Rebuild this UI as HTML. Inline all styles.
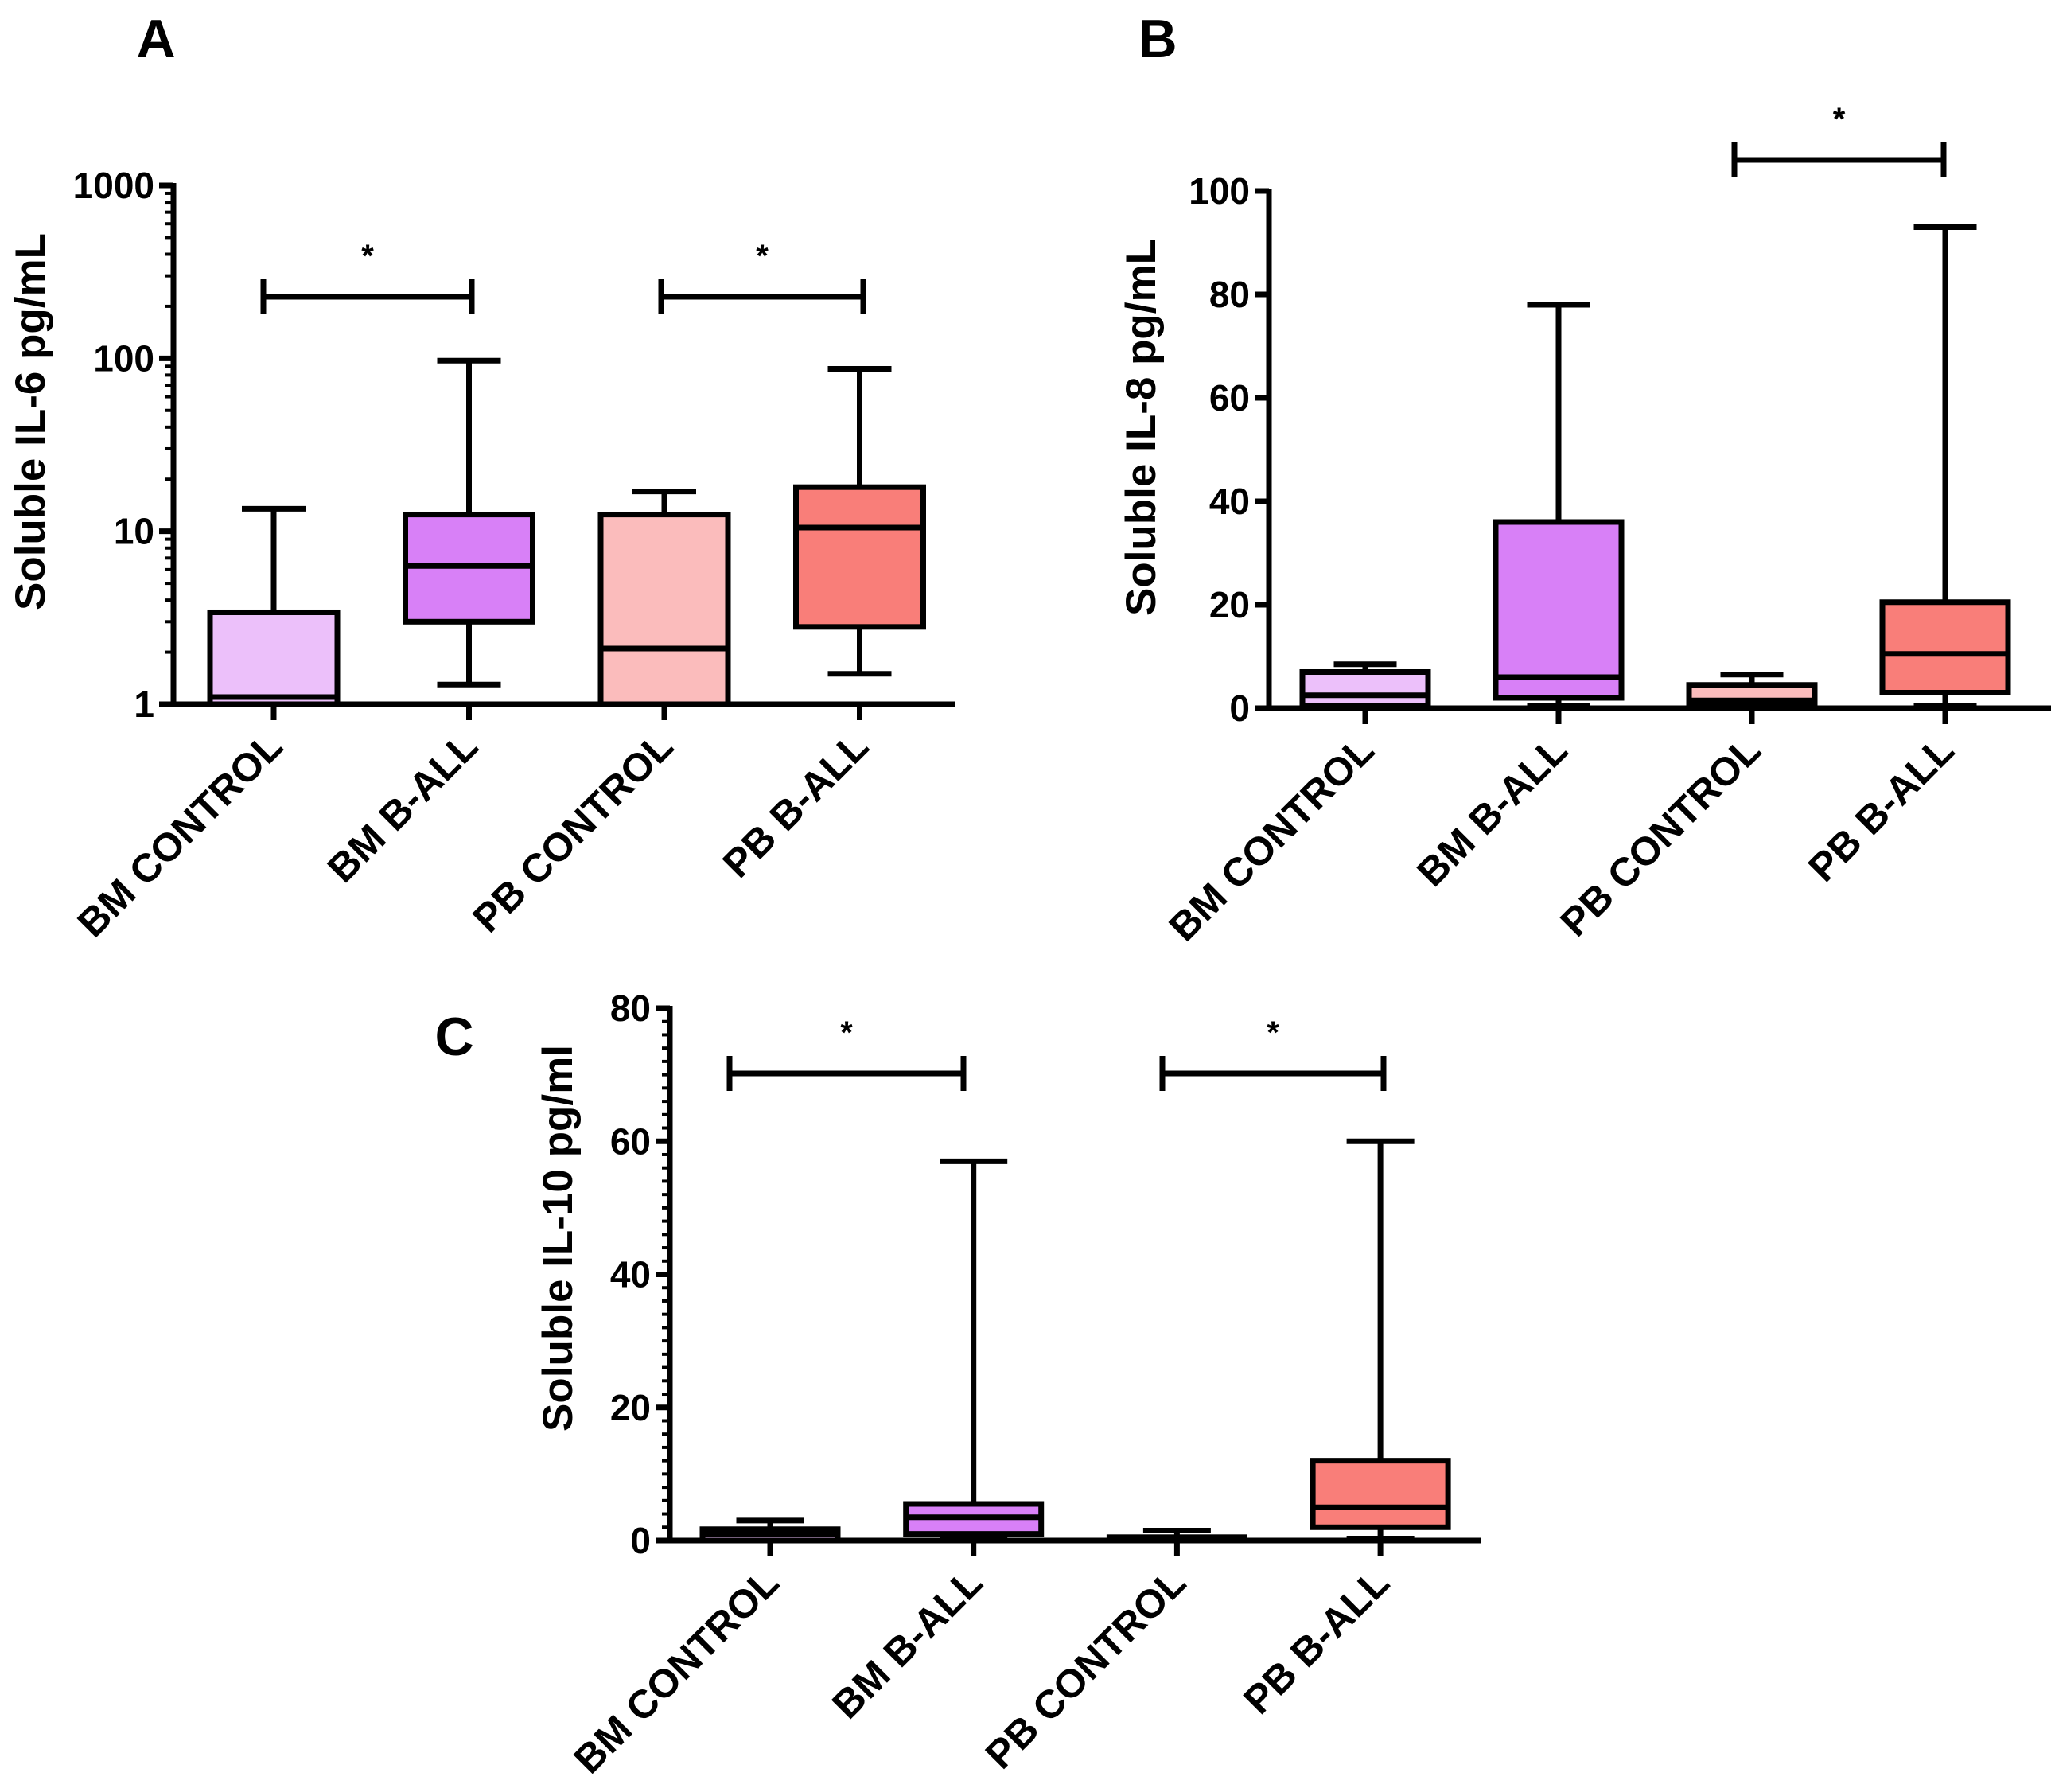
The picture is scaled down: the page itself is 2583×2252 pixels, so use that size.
<!DOCTYPE html>
<html><head><meta charset="utf-8">
<style>
html,body{margin:0;padding:0;background:#fff;}
svg{display:block;font-family:"Liberation Sans",Arial,sans-serif;font-weight:bold;}
</style></head>
<body>
<svg id="fig" width="2583" height="2252" viewBox="0 0 2583 2252" xmlns="http://www.w3.org/2000/svg">
<rect width="2583" height="2252" fill="#fff"/>
</svg>
<script>
const categories = ["BM CONTROL","BM B-ALL","PB CONTROL","PB B-ALL"];
const colors = ["#ecc0fa","#d880f7","#fbbcbc","#f97e79"];
// Panel A (log)
const aMin = [1, 1.3, 1, 1.5];
const aQ1 = [1, 3.0, 1, 2.8];
const aMed = [1.1, 6.3, 2.1, 10.5];
const aQ3 = [3.4, 12.5, 12.5, 18];
const aMax = [13.5, 97, 17, 87];
const aTicks = [1, 10, 100, 1000];
// Panel B
const bMin = [0.3, 0.5, 0.3, 0.5];
const bQ1 = [0.5, 2, 0.5, 3];
const bMed = [2.5, 6, 1.5, 10.5];
const bQ3 = [7, 36, 4.5, 20.5];
const bMax = [8.5, 78, 6.5, 93];
const bTicks = [0, 20, 40, 60, 80, 100];
// Panel C
const cMin = [0, 0.3, 0, 0.3];
const cQ1 = [0, 1, 0, 2];
const cMed = [1, 3.5, 0.3, 5];
const cQ3 = [1.7, 5.5, 0.5, 12];
const cMax = [3, 57, 1.5, 60];
const cTicks = [0, 20, 40, 60, 80];

const NS = "http://www.w3.org/2000/svg";
const svg = document.getElementById("fig");
function mk(tag, attrs, parent, text){
  const e = document.createElementNS(NS, tag);
  for (const k in attrs) e.setAttribute(k, attrs[k]);
  if (text !== undefined) e.textContent = text;
  (parent||svg).appendChild(e);
  return e;
}
const LW = 7;

function panel(p){
  const g = mk("g", {});
  
  
  const yS = p.log
    ? v => p.y0 - (Math.log10(v) - Math.log10(p.min)) / (Math.log10(p.max) - Math.log10(p.min)) * (p.y0 - p.y1)
    : v => p.y0 - (v - p.min) / (p.max - p.min) * (p.y0 - p.y1);
  const xS = i => p.cx0 + i * p.dx;
  const L = mk("text", {x:p.lx, y:p.ly, "font-size":68, "text-anchor":"middle"}, g, p.letter);
  
  
  categories.forEach((c,i)=>{
    const x = xS(i), hw = p.hw;
    const bg = mk("g", {}, g);
    
    
    const lo = p.mins[i], q1 = p.q1[i], md = p.med[i], q3 = p.q3[i], hi = p.maxs[i];
    mk("line", {x1:x, x2:x, y1:yS(q3), y2:yS(hi), stroke:"#000","stroke-width":LW}, bg);
    mk("line", {x1:x, x2:x, y1:yS(q1), y2:yS(lo), stroke:"#000","stroke-width":LW}, bg);
    mk("line", {x1:x-hw/2, x2:x+hw/2, y1:yS(hi), y2:yS(hi), stroke:"#000","stroke-width":LW}, bg);
    mk("line", {x1:x-hw/2, x2:x+hw/2, y1:yS(lo), y2:yS(lo), stroke:"#000","stroke-width":LW}, bg);
    mk("rect", {x:x-hw, y:yS(q3), width:2*hw, height:Math.max(1, yS(q1)-yS(q3)), fill:colors[i], stroke:"#000","stroke-width":LW}, bg);
    mk("line", {x1:x-hw, x2:x+hw, y1:yS(md), y2:yS(md), stroke:"#000","stroke-width":LW}, bg);
  });
  const ax = mk("g", {}, g);
  
  
  mk("line", {x1:p.ax, x2:p.ax, y1:p.y1-3, y2:p.y0+3, stroke:"#000","stroke-width":LW}, ax);
  p.ticks.forEach(t=>{
    mk("line", {x1:p.ax-18, x2:p.ax, y1:yS(t), y2:yS(t), stroke:"#000","stroke-width":LW}, ax);
    const tl = mk("text", {x:p.ax-24, y:yS(t)+16, "font-size":46, "text-anchor":"end"}, ax, String(t));
    
    
  });
  if (p.log){
    for (let d=1; d<1000; d*=10) for (let k=2;k<10;k++){
      mk("line", {x1:p.ax-10, x2:p.ax, y1:yS(d*k), y2:yS(d*k), stroke:"#000","stroke-width":4}, ax);
    }
  } else if (p.minor){
    for (let v=p.min; v<=p.max; v+=p.minor){
      mk("line", {x1:p.ax-10, x2:p.ax, y1:yS(v), y2:yS(v), stroke:"#000","stroke-width":4}, ax);
    }
  }
  const yt = mk("text", {x:0, y:0, "font-size":53, "text-anchor":"middle", transform:`translate(${p.tx},${p.ty}) rotate(-90)`}, ax, p.title);
  
  
  const xa = mk("g", {}, g);
  
  
  mk("line", {x1:p.ax-3, x2:p.axEnd, y1:p.y0, y2:p.y0, stroke:"#000","stroke-width":LW}, xa);
  categories.forEach((c,i)=>{
    const x = xS(i);
    mk("line", {x1:x, x2:x, y1:p.y0, y2:p.y0+20, stroke:"#000","stroke-width":LW}, xa);
    const t = mk("text", {x:0, y:0, "font-size":50, "text-anchor":"end", transform:`translate(${x+14},${p.y0+56}) rotate(-45)`}, xa, c);
    
    
  });
  p.brackets.forEach(b=>{
    const bg = mk("g", {}, g);
    
    
    mk("line", {x1:b[0], x2:b[1], y1:p.by, y2:p.by, stroke:"#000","stroke-width":LW}, bg);
    mk("line", {x1:b[0], x2:b[0], y1:p.by-22, y2:p.by+22, stroke:"#000","stroke-width":LW}, bg);
    mk("line", {x1:b[1], x2:b[1], y1:p.by-22, y2:p.by+22, stroke:"#000","stroke-width":LW}, bg);
    mk("text", {x:(b[0]+b[1])/2, y:p.by-38, "font-size":40, "text-anchor":"middle"}, bg, "*");
  });
}

panel({name:"panel-a-il6", letter:"A", lx:196, ly:72, log:true, min:1, max:1000,
  y0:885, y1:233, ax:218, axEnd:1200, cx0:344, dx:245.5, hw:80,
  mins:aMin, q1:aQ1, med:aMed, q3:aQ3, maxs:aMax, ticks:aTicks,
  title:"Soluble IL-6 pg/mL", tx:56, ty:530, by:373, brackets:[[331,593],[831,1085]]});
panel({name:"panel-b-il8", letter:"B", lx:1455, ly:72, log:false, min:0, max:100,
  y0:890, y1:240, ax:1595, axEnd:2578, cx0:1716, dx:243, hw:79,
  mins:bMin, q1:bQ1, med:bMed, q3:bQ3, maxs:bMax, ticks:bTicks,
  title:"Soluble IL-8 pg/mL", tx:1452, ty:537, by:201, brackets:[[2180,2443]]});
panel({name:"panel-c-il10", letter:"C", lx:571, ly:1326, log:false, min:0, max:80, minor:2,
  y0:1936, y1:1267, ax:842, axEnd:1862, cx0:968, dx:255.7, hw:85,
  mins:cMin, q1:cQ1, med:cMed, q3:cQ3, maxs:cMax, ticks:cTicks,
  title:"Soluble IL-10 pg/ml", tx:719, ty:1556, by:1349, brackets:[[917,1211],[1461,1739]]});
</script>
</body></html>
